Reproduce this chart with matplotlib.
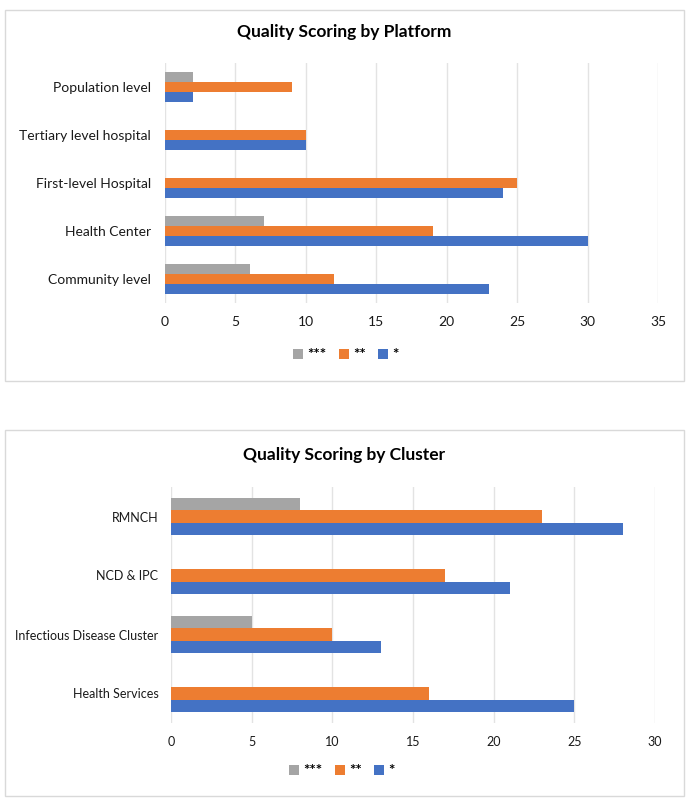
import matplotlib
matplotlib.use("Agg")
import matplotlib.pyplot as plt
from matplotlib.patches import Rectangle, Patch

plt.rcParams['font.family'] = ['Lato', 'DejaVu Sans']

# ---- data ----
platform_cats = ["Population level", "Tertiary level hospital", "First-level Hospital",
                 "Health Center", "Community level"]
platform_3star = [2, 0, 0, 7, 6]
platform_2star = [9, 10, 25, 19, 12]
platform_1star = [2, 10, 24, 30, 23]
platform_ticks = [0, 5, 10, 15, 20, 25, 30, 35]

cluster_cats = ["RMNCH", "NCD & IPC", "Infectious Disease Cluster", "Health Services"]
cluster_3star = [8, 0, 5, 0]
cluster_2star = [23, 17, 10, 16]
cluster_1star = [28, 21, 13, 25]
cluster_ticks = [0, 5, 10, 15, 20, 25, 30]

series_labels = ["***", "**", "*"]
colors = ["#A5A5A5", "#ED7D31", "#4472C4"]

W, H = 692, 807
fig = plt.figure(figsize=(W / 100, H / 100), dpi=100)
fig.patch.set_facecolor("white")


def fx(px):
    return px / W


def fy(py):
    return 1 - py / H


def panel(box, ax_box, title, title_y, cats, s3, s2, s1, ticks, legend_y, legend_x, fs, ypad):
    x0, y0, x1, y1 = box
    fig.patches.append(Rectangle((fx(x0), fy(y1)), fx(x1) - fx(x0), fy(y0) - fy(y1),
                                 transform=fig.transFigure, fill=False,
                                 edgecolor="#D9D9D9", linewidth=1.0))
    l, t, r, b = ax_box
    ax = fig.add_axes([fx(l), fy(b), fx(r) - fx(l), fy(t) - fy(b)])
    n = len(cats)
    h = 0.208
    pos = list(range(n))
    for vals, off, c in zip([s3, s2, s1], [-h, 0, h], colors):
        ax.barh([p + off for p in pos], vals, height=h, color=c, zorder=3)
    ax.set_ylim(n - 0.5, -0.5)
    ax.set_xlim(ticks[0], ticks[-1])
    ax.set_xticks(ticks)
    ax.set_yticks(pos)
    ax.set_yticklabels(cats, fontsize=fs, color="#1a1a1a")
    ax.tick_params(axis="x", labelsize=fs, colors="#1a1a1a", length=0, pad=9)
    ax.tick_params(axis="y", length=0, pad=ypad)
    ax.grid(axis="x", color="#E3E3E3", linewidth=1.0, zorder=0)
    for s in ax.spines.values():
        s.set_visible(False)
    fig.text(fx((x0 + x1) / 2), fy(title_y), title, ha="center", va="center",
             fontsize=12.5, fontweight="bold", color="#000000")
    handles = [Patch(facecolor=c, edgecolor="none") for c in colors]
    fig.legend(handles, series_labels, loc="center", bbox_to_anchor=(fx(legend_x), fy(legend_y)),
               ncol=3, frameon=False, prop={"size": 11, "weight": "bold"},
               handlelength=0.65, handleheight=0.65,
               handletextpad=0.3, columnspacing=0.8)
    return ax


panel((5, 10, 684, 381), (165, 63, 658, 303), "Quality Scoring by Platform", 32,
      platform_cats, platform_3star, platform_2star, platform_1star, platform_ticks, 355, 346, 10, 10)
panel((5, 430, 684, 796), (171, 487, 655, 723), "Quality Scoring by Cluster", 455,
      cluster_cats, cluster_3star, cluster_2star, cluster_1star, cluster_ticks, 771, 342, 9, 9)

fig.savefig("out.png", dpi=100, facecolor="white")
